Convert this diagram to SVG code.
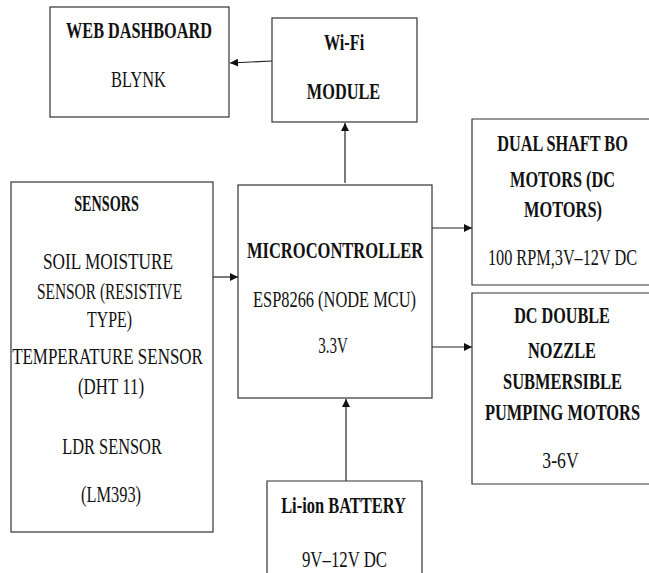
<svg xmlns="http://www.w3.org/2000/svg" width="649" height="573" viewBox="0 0 649 573">
<style>
.box{fill:#fff;stroke:#333;stroke-width:1.2}
.t{font-family:"Liberation Serif","Times New Roman",Times,serif;font-size:24px;fill:#111;text-anchor:middle}
.b{font-weight:bold}
.c{stroke:#222;stroke-width:1.2;fill:none;marker-end:url(#ah)}
</style>
<defs>
<marker id="ah" viewBox="0 0 10 10" refX="10" refY="5" markerWidth="9" markerHeight="8" markerUnits="userSpaceOnUse" orient="auto">
<path d="M0,0 L10,5 L0,10 z" fill="#111"/>
</marker>
</defs>
<rect width="649" height="573" fill="#fff"/>
<g id="connectors">
<line class="c" x1="272" y1="61" x2="230" y2="63"/>
<line class="c" x1="345" y1="183" x2="345" y2="123"/>
<line class="c" x1="213" y1="277" x2="238" y2="277"/>
<line class="c" x1="432" y1="228" x2="472" y2="228"/>
<line class="c" x1="432" y1="347" x2="472" y2="347"/>
<line class="c" x1="346" y1="481" x2="346" y2="399"/>
</g>
<g id="web-dashboard">
<rect class="box" x="50" y="7" width="179" height="110"/>
<text class="t b" transform="translate(139 0) scale(0.66 1)" x="0" y="38" textLength="221" lengthAdjust="spacingAndGlyphs">WEB DASHBOARD</text>
<text class="t" transform="translate(138.5 0) scale(0.66 1)" x="0" y="87" textLength="83" lengthAdjust="spacingAndGlyphs">BLYNK</text>
</g>
<g id="wifi-module">
<rect class="box" x="272" y="18" width="145" height="104"/>
<text class="t b" transform="translate(344 0) scale(0.66 1)" x="0" y="50" textLength="61" lengthAdjust="spacingAndGlyphs">Wi-Fi</text>
<text class="t b" transform="translate(343.5 0) scale(0.66 1)" x="0" y="99" textLength="111" lengthAdjust="spacingAndGlyphs">MODULE</text>
</g>
<g id="sensors">
<rect class="box" x="11" y="182" width="202" height="350"/>
<text class="t b" transform="translate(106.5 0) scale(0.66 1)" x="0" y="211" textLength="98" lengthAdjust="spacingAndGlyphs">SENSORS</text>
<text class="t" transform="translate(108 0) scale(0.66 1)" x="0" y="269" textLength="197" lengthAdjust="spacingAndGlyphs">SOIL MOISTURE</text>
<text class="t" transform="translate(109.5 0) scale(0.66 1)" x="0" y="299" textLength="220" lengthAdjust="spacingAndGlyphs">SENSOR (RESISTIVE</text>
<text class="t" transform="translate(109.5 0) scale(0.66 1)" x="0" y="327" textLength="68" lengthAdjust="spacingAndGlyphs">TYPE)</text>
<text class="t" transform="translate(107.5 0) scale(0.66 1)" x="0" y="364" textLength="289" lengthAdjust="spacingAndGlyphs">TEMPERATURE SENSOR</text>
<text class="t" transform="translate(111 0) scale(0.66 1)" x="0" y="394" textLength="100" lengthAdjust="spacingAndGlyphs">(DHT 11)</text>
<text class="t" transform="translate(112 0) scale(0.66 1)" x="0" y="454" textLength="151" lengthAdjust="spacingAndGlyphs">LDR SENSOR</text>
<text class="t" transform="translate(111 0) scale(0.66 1)" x="0" y="502" textLength="91" lengthAdjust="spacingAndGlyphs">(LM393)</text>
</g>
<g id="microcontroller">
<rect class="box" x="238" y="185" width="194" height="213"/>
<text class="t b" transform="translate(335 0) scale(0.66 1)" x="0" y="258" textLength="267" lengthAdjust="spacingAndGlyphs">MICROCONTROLLER</text>
<text class="t" transform="translate(334.5 0) scale(0.66 1)" x="0" y="307" textLength="247" lengthAdjust="spacingAndGlyphs">ESP8266 (NODE MCU)</text>
<text class="t" transform="translate(333 0) scale(0.66 1)" x="0" y="353" textLength="45" lengthAdjust="spacingAndGlyphs">3.3V</text>
</g>
<g id="bo-motors">
<path class="box" d="M649,119 H472 V285 H649"/>
<text class="t b" transform="translate(562.5 0) scale(0.66 1)" x="0" y="151" textLength="198" lengthAdjust="spacingAndGlyphs">DUAL SHAFT BO</text>
<text class="t b" transform="translate(562.5 0) scale(0.66 1)" x="0" y="187" textLength="159" lengthAdjust="spacingAndGlyphs">MOTORS (DC</text>
<text class="t b" transform="translate(563 0) scale(0.66 1)" x="0" y="217" textLength="118" lengthAdjust="spacingAndGlyphs">MOTORS)</text>
<text class="t" transform="translate(562.5 0) scale(0.66 1)" x="0" y="265" textLength="226" lengthAdjust="spacingAndGlyphs">100 RPM,3V–12V DC</text>
</g>
<g id="pump-motors">
<path class="box" d="M649,293 H472 V484 H649"/>
<text class="t b" transform="translate(562 0) scale(0.66 1)" x="0" y="323" textLength="145" lengthAdjust="spacingAndGlyphs">DC DOUBLE</text>
<text class="t b" transform="translate(562 0) scale(0.66 1)" x="0" y="358" textLength="103" lengthAdjust="spacingAndGlyphs">NOZZLE</text>
<text class="t b" transform="translate(562.5 0) scale(0.66 1)" x="0" y="389" textLength="180" lengthAdjust="spacingAndGlyphs">SUBMERSIBLE</text>
<text class="t b" transform="translate(562.5 0) scale(0.66 1)" x="0" y="420" textLength="235" lengthAdjust="spacingAndGlyphs">PUMPING MOTORS</text>
<text class="t" transform="translate(560.5 0) scale(0.66 1)" x="0" y="468" textLength="55" lengthAdjust="spacingAndGlyphs">3-6V</text>
</g>
<g id="battery">
<path class="box" d="M267,573 V481 H422 V573"/>
<text class="t b" transform="translate(343.5 0) scale(0.66 1)" x="0" y="513" textLength="189" lengthAdjust="spacingAndGlyphs">Li-ion BATTERY</text>
<text class="t" transform="translate(344.5 0) scale(0.66 1)" x="0" y="567" textLength="129" lengthAdjust="spacingAndGlyphs">9V–12V DC</text>
</g>
</svg>
